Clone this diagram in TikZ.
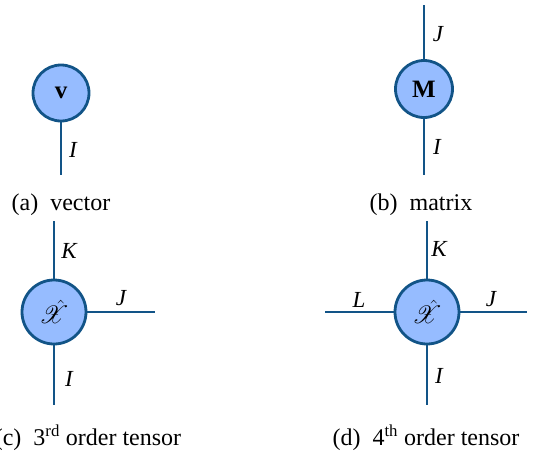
\documentclass[tikz,border=0pt]{standalone}
\usepackage{fontspec}
\setmainfont{Liberation Serif}
\usepackage{mathrsfs}
\definecolor{edgeblue}{RGB}{18,84,135}
\definecolor{fillblue}{RGB}{150,188,255}
\tikzset{
  tnode/.style={circle, draw=edgeblue, fill=fillblue, line width=2.8pt, inner sep=0pt, font=\fontsize{25}{29}\selectfont},
  leg/.style={draw=edgeblue, line width=2.6pt},
  lab/.style={inner sep=0pt, font=\fontsize{23}{28}\selectfont\itshape},
  captext/.style={inner sep=0pt, font=\fontsize{24}{29}\selectfont}
}
\begin{document}
\begin{tikzpicture}[x=1pt, y=-1pt]
\useasboundingbox (0,0) rectangle (533,455);
% (a) vector
\node[tnode, minimum size=56pt] (v) at (61,93) {\textbf{v}};
\coordinate (v1) at (61,175);
\draw[leg] (v) -- (v1);
\node[lab] (vI) at (73,150) {I};
\node[captext] (capa) at (61,205) {(a)\enspace vector};
% (b) matrix
\node[tnode, minimum size=57pt] (m) at (424,89) {\textbf{M}};
\coordinate (m1) at (424,5);
\coordinate (m2) at (424,175);
\draw[leg] (m) -- (m1);
\draw[leg] (m) -- (m2);
\node[lab] (mJ) at (438,34) {J};
\node[lab] (mI) at (437,147) {I};
\node[captext] (capb) at (421,205) {(b)\enspace matrix};
% (c) 3rd order tensor
\node[tnode, minimum size=64pt] (x3) at (54,312) {$\hat{\mathscr{X}}$};
\coordinate (x3k) at (54,221);
\coordinate (x3j) at (155,312);
\coordinate (x3i) at (54,405);
\draw[leg] (x3) -- (x3k);
\draw[leg] (x3) -- (x3j);
\draw[leg] (x3) -- (x3i);
\node[lab] (x3K) at (69,251) {K};
\node[lab] (x3J) at (121,298) {J};
\node[lab] (x3I) at (69,379) {I};
\node[captext] (capc) at (88,438) {(c)\enspace 3\textsuperscript{rd} order tensor};
% (d) 4th order tensor
\node[tnode, minimum size=64pt] (x4) at (427,312) {$\hat{\mathscr{X}}$};
\coordinate (x4k) at (427,221);
\coordinate (x4l) at (325,312);
\coordinate (x4j) at (527,312);
\coordinate (x4i) at (427,405);
\draw[leg] (x4) -- (x4k);
\draw[leg] (x4) -- (x4l);
\draw[leg] (x4) -- (x4j);
\draw[leg] (x4) -- (x4i);
\node[lab] (x4K) at (439,249) {K};
\node[lab] (x4L) at (359,300) {L};
\node[lab] (x4J) at (491,299) {J};
\node[lab] (x4I) at (439,376) {I};
\node[captext] (capd) at (426,438) {(d)\enspace 4\textsuperscript{th} order tensor};
\end{tikzpicture}
\end{document}
